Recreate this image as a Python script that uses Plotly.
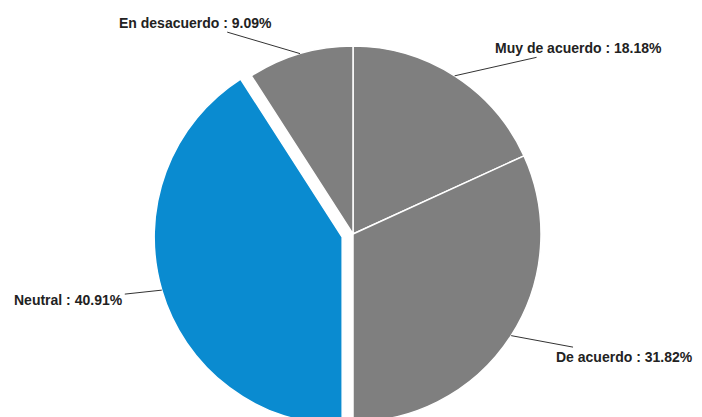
import math
import plotly.graph_objects as go

labels = ["Muy de acuerdo", "De acuerdo", "Neutral", "En desacuerdo"]
values = [18.18, 31.82, 40.91, 9.09]
colors = ["#7f7f7f", "#7f7f7f", "#0a8bd0", "#7f7f7f"]
pulls = [0, 0, 0.06, 0]
# label offsets (pixels) from slice edge to label centre
label_dx = [124, 113, -93, -105]
label_dy = [-28, 21, 10, -31]

W, H = 702, 440
CX, CY, R = 345, 226, 188
maxpull = max(pulls)
half = R * (1 + maxpull)
dom_x = [(CX - half) / W, (CX + half) / W]
dom_y = [(H - CY - half) / H, (H - CY + half) / H]

fig = go.Figure(go.Pie(
    labels=labels, values=values, sort=False, direction="clockwise", rotation=0,
    marker=dict(colors=colors, line=dict(color="white", width=1.5)),
    pull=pulls, textinfo="none", hoverinfo="label+percent", showlegend=False,
    domain=dict(x=dom_x, y=dom_y),
))

total = sum(values)
cum = 0
annotations = []
for lab, v, p, dx, dy in zip(labels, values, pulls, label_dx, label_dy):
    mid = (cum + v / 2) / total * 2 * math.pi
    cum += v
    rr = R * (1 + p)
    hx = CX + rr * math.sin(mid)
    hy = CY - rr * math.cos(mid)
    annotations.append(dict(
        x=hx / W, y=(H - hy) / H, xref="paper", yref="paper",
        text=f"<b>{lab} : {v:.2f}%</b>", showarrow=True, arrowhead=0, arrowwidth=1,
        arrowcolor="#333333", ax=dx, ay=dy, axref="pixel", ayref="pixel",
        font=dict(family="Liberation Sans, Arial", size=14, color="#222222"),
    ))

fig.update_layout(
    width=W, height=H, margin=dict(l=0, r=0, t=0, b=0),
    paper_bgcolor="white", plot_bgcolor="white",
    annotations=annotations,
    font=dict(family="Liberation Sans, Arial"),
)
fig.write_html("out.html")
